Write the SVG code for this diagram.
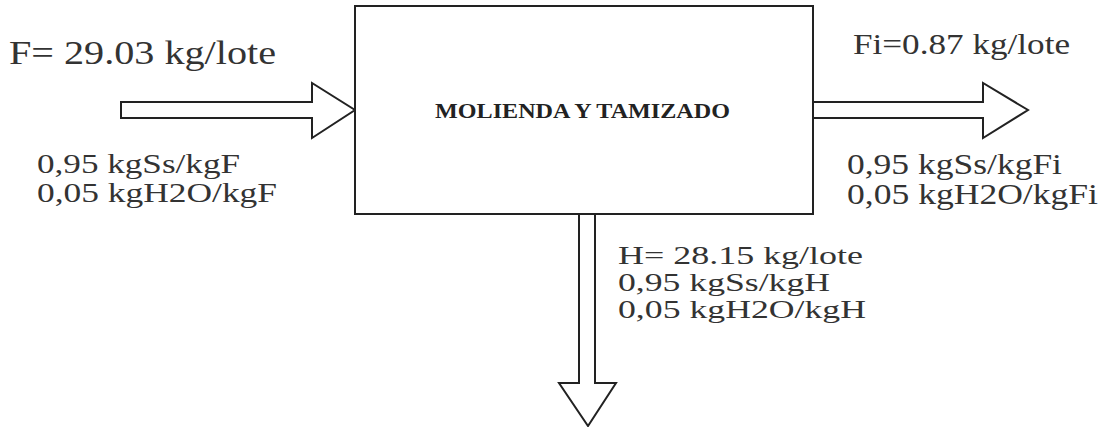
<svg xmlns="http://www.w3.org/2000/svg" width="1108" height="427" viewBox="0 0 1108 427">
  <style>
    text { font-family: "Liberation Serif", "Times New Roman", Times, serif; }
    .lbl { fill: #333333; font-size: 29px; }
    .big { font-size: 34px; }
    .mid { font-size: 30px; }
    .snug { font-size: 28px; }
    .tight { font-size: 26px; }
    .title { font-weight: bold; font-size: 22px; fill: #222222; }
    .shape { fill: #ffffff; stroke: #222222; stroke-width: 2; stroke-linejoin: miter; }
  </style>
  <rect width="1108" height="427" fill="#ffffff"/>

  <!-- connectors: hollow block arrows for the three streams -->
  <g id="connectors">
    <polygon id="arrow-in" class="shape" points="121,102 312,102 312,83 355,110 312,138 312,118 121,118"/>
    <polygon id="arrow-fi" class="shape" points="813,102 983,102 983,83 1028,110 983,138 983,118 813,118"/>
    <polygon id="arrow-h" class="shape" points="579,214 595,214 595,383 616,383 588,426 559,383 579,383"/>
  </g>

  <!-- process unit -->
  <g id="node-molienda">
    <rect class="shape" x="355" y="6" width="458" height="208"/>
    <text class="title" x="435" y="118" textLength="295" lengthAdjust="spacingAndGlyphs">MOLIENDA Y TAMIZADO</text>
  </g>

  <!-- feed stream -->
  <g id="node-feed">
    <text class="lbl big" x="9" y="64" textLength="267" lengthAdjust="spacingAndGlyphs">F= 29.03 kg/lote</text>
    <text class="lbl snug" x="37" y="173" textLength="203" lengthAdjust="spacingAndGlyphs">0,95 kgSs/kgF</text>
    <text class="lbl snug" x="37" y="202" textLength="240" lengthAdjust="spacingAndGlyphs">0,05 kgH2O/kgF</text>
  </g>

  <!-- fines stream -->
  <g id="node-fines">
    <text class="lbl mid" x="853" y="54" textLength="217" lengthAdjust="spacingAndGlyphs">Fi=0.87 kg/lote</text>
    <text class="lbl" x="847" y="174" textLength="215" lengthAdjust="spacingAndGlyphs">0,95 kgSs/kgFi</text>
    <text class="lbl" x="847" y="204" textLength="251" lengthAdjust="spacingAndGlyphs">0,05 kgH2O/kgFi</text>
  </g>

  <!-- product stream -->
  <g id="node-product">
    <text class="lbl tight" x="618" y="264" textLength="245" lengthAdjust="spacingAndGlyphs">H= 28.15 kg/lote</text>
    <text class="lbl tight" x="618" y="291" textLength="212" lengthAdjust="spacingAndGlyphs">0,95 kgSs/kgH</text>
    <text class="lbl tight" x="618" y="318" textLength="248" lengthAdjust="spacingAndGlyphs">0,05 kgH2O/kgH</text>
  </g>
</svg>
